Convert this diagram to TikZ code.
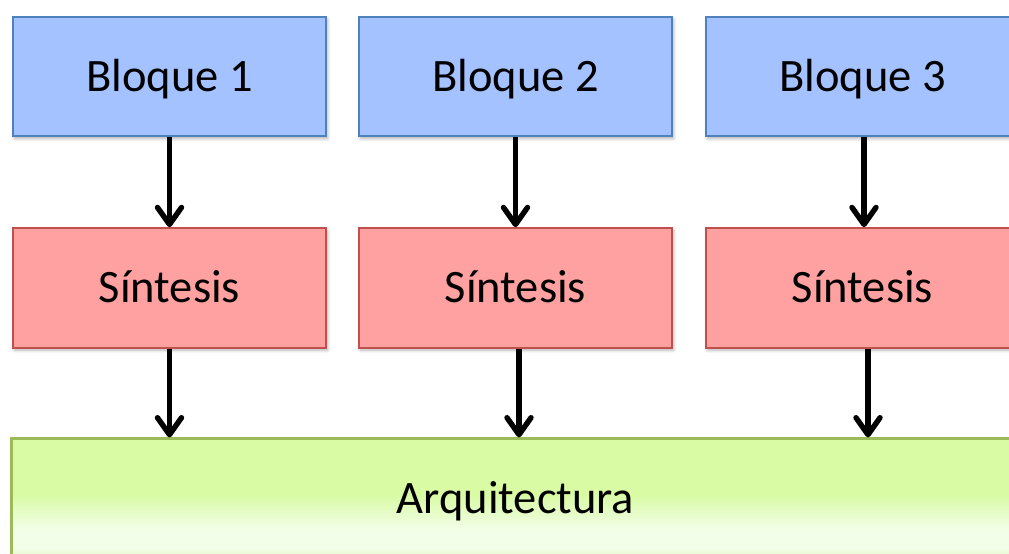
\documentclass[tikz,border=0pt]{standalone}
\usepackage{fontspec}
\setmainfont{Carlito}
\usetikzlibrary{arrows.meta,shadows.blur}

\definecolor{blockfill}{RGB}{164,194,255}
\definecolor{blockline}{RGB}{79,129,189}
\definecolor{synfill}{RGB}{255,161,161}
\definecolor{synline}{RGB}{192,80,77}
\definecolor{arqgreen}{RGB}{216,251,164}
\definecolor{arqwhite}{RGB}{243,254,233}
\definecolor{arqlow}{RGB}{228,250,202}
\definecolor{arqline}{RGB}{155,187,89}

% glossy green fill of the base bar (25bp = bottom edge, 75bp = top edge)
\pgfdeclareverticalshading{arqshade}{100bp}{%
  color(0bp)=(arqlow); color(25bp)=(arqlow); color(30bp)=(arqwhite);
  color(37bp)=(arqwhite); color(52bp)=(arqgreen); color(100bp)=(arqgreen)}

\tikzset{
  boxbase/.style={line width=2.2bp, minimum width=313.5bp, minimum height=119.5bp,
    inner sep=0pt, text height=29.6bp, text depth=0pt,
    font=\fontsize{46.5bp}{52bp}\selectfont,
    blur shadow={shadow xshift=1.5bp, shadow yshift=-2.5bp,
      shadow blur radius=3bp, shadow blur steps=6, shadow opacity=30}},
  blockbox/.style={boxbase, draw=blockline, fill=blockfill},
  synbox/.style={boxbase, draw=synline, fill=synfill},
  arqbox/.style={boxbase, draw=arqline, shading=arqshade,
    minimum width=1008bp, minimum height=121bp},
  flow/.style={line width=5.4bp,
    -{Straight Barb[length=17bp, width=24bp, line cap=round, line join=round]}}
}

\begin{document}
\begin{tikzpicture}[x=1bp, y=-1bp]
\useasboundingbox (0,0) rectangle (1009,554);
\clip (0,0) rectangle (1009,554);

% input blocks
\node[blockbox] (b1) at (169.5,76.5) {Bloque 1};
\node[blockbox] (b2) at (515.5,76.5) {Bloque 2};
\node[blockbox] (b3) at (862.5,76.5) {Bloque 3};

% synthesis stage
\node[synbox] (s1) at (169.5,288) {Síntesis};
\node[synbox] (s2) at (515.5,288) {Síntesis};
\node[synbox] (s3) at (862.5,288) {Síntesis};

% common architecture bar
\node[arqbox] (arq) at (515.5,499) {Arquitectura};

% block -> synthesis
\draw[flow] (b1.south) -- (s1.north);
\draw[flow] (b2.south) -- (s2.north);
\draw[flow] ([xshift=1.5bp]b3.south) -- ([xshift=1.5bp]s3.north);

% synthesis -> architecture
\draw[flow] (s1.south) -- (s1.south |- arq.north);
\draw[flow] ([xshift=3.5bp]s2.south) -- ([xshift=3.5bp]s2.south |- arq.north);
\draw[flow] ([xshift=5.5bp]s3.south) -- ([xshift=5.5bp]s3.south |- arq.north);
\end{tikzpicture}
\end{document}
